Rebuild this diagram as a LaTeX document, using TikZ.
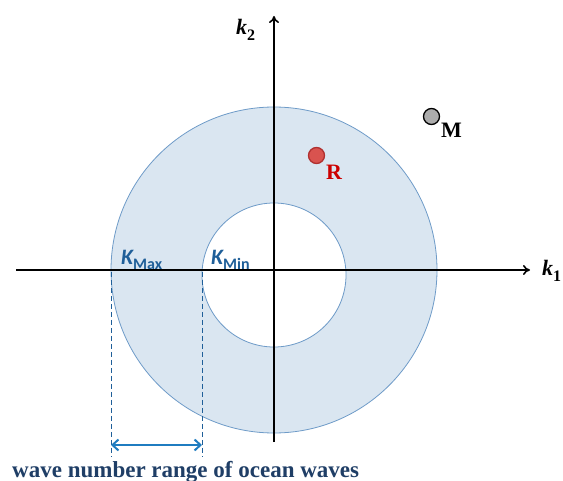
\documentclass[tikz,border=0pt]{standalone}
\usepackage{fontspec}
\setmainfont{Liberation Serif}
\setsansfont{Carlito}
\usetikzlibrary{arrows.meta}
\definecolor{ringfill}{HTML}{DAE6F1}
\definecolor{ringline}{HTML}{6E9BC8}
\definecolor{kblue}{HTML}{1F5F99}
\definecolor{arrowblue}{HTML}{1F7CC0}
\definecolor{textblue}{HTML}{1F3E66}
\definecolor{rred}{HTML}{D9534F}
\definecolor{rdark}{HTML}{B03030}
\tikzset{
  axis/.style={line width=1.6pt, -{To[length=7pt,width=10pt]}},
  dashline/.style={dashed, dash pattern=on 5pt off 3pt, kblue, line width=0.7pt},
  klabel/.style={font=\sffamily\bfseries\fontsize{22}{24}\selectfont, text=kblue, inner sep=0pt},
  axlabel/.style={font=\bfseries\fontsize{22}{24}\selectfont, inner sep=0pt},
  ptlabel/.style={font=\bfseries\fontsize{22}{24}\selectfont, inner sep=0pt},
  dot/.style={circle, minimum size=16pt, inner sep=0pt, line width=1.3pt}
}
\begin{document}
\begin{tikzpicture}[x=1pt,y=-1pt]
\useasboundingbox (0,0) rectangle (563,481);
\coordinate (O) at (274,270);
\fill[ringfill, even odd rule] (O) circle (163) (274,275) circle (72);
\draw[ringline, line width=0.8pt] (O) circle (163);
\draw[ringline, line width=0.8pt] (274,275) circle (72);
\coordinate (xs) at (16,270);
\coordinate (xe) at (530,270);
\coordinate (ys) at (274,442);
\coordinate (ye) at (274,16);
\draw[axis] (xs) -- (xe);
\draw[axis] (ys) -- (ye);
\node[axlabel, anchor=base west] (k1) at (542,276) {\itshape k\raisebox{-0.25em}{\fontsize{16}{18}\selectfont\upshape 1}};
\node[axlabel, anchor=base west] (k2) at (236,35) {\itshape k\raisebox{-0.25em}{\fontsize{16}{18}\selectfont\upshape 2}};
\coordinate (dm1) at (111,272);
\coordinate (dm2) at (111,457);
\coordinate (dn1) at (202,272);
\coordinate (dn2) at (202,457);
\draw[dashline] (dm1) -- (dm2);
\draw[dashline] (dn1) -- (dn2);
\coordinate (am) at (111,445);
\coordinate (an) at (202,445);
\draw[arrowblue, line width=2pt, {Straight Barb[length=6pt,width=11pt]}-{Straight Barb[length=6pt,width=11pt]}] (am) -- (an);
\node[klabel, anchor=base west] (kmax) at (121,265) {\itshape K\raisebox{-5pt}{\fontsize{16}{18}\selectfont\upshape Max}};
\node[klabel, anchor=base west] (kmin) at (211,265) {\itshape K\raisebox{-5pt}{\fontsize{16}{18}\selectfont\upshape Min}};
\node[dot, draw=black, fill=gray!65] (M) at (431.5,116.5) {};
\node[ptlabel, anchor=base west] (Ml) at (441,138) {M};
\node[dot, draw=rdark, fill=rred] (R) at (316.5,155.5) {};
\node[ptlabel, text=red!80!black, anchor=base west] (Rl) at (326,180) {R};
\node[font=\bfseries\fontsize{23}{26}\selectfont, text=textblue, anchor=base west, inner sep=0pt] (cap) at (12,477) {wave number range of ocean waves};
\end{tikzpicture}
\end{document}
